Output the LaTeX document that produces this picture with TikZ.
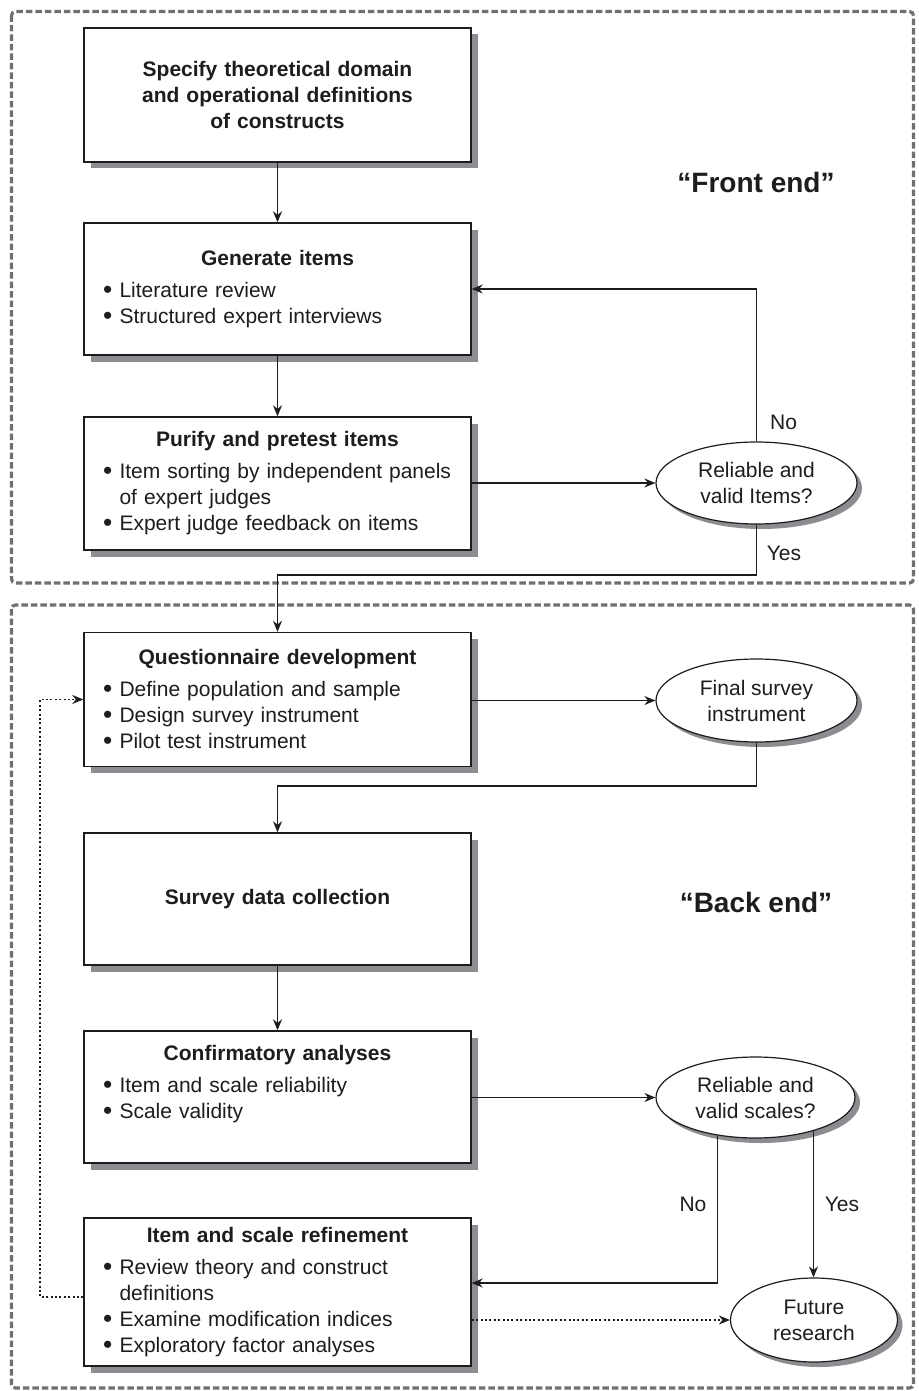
\documentclass[tikz,border=0pt]{standalone}
\usepackage{fontspec}
\setmainfont{Liberation Sans}
\usetikzlibrary{arrows.meta,shapes.geometric,shadows}
\definecolor{shadowgray}{RGB}{140,140,145}
\definecolor{framegray}{RGB}{112,112,116}
\definecolor{inkc}{RGB}{30,28,30}
\newcommand{\btitle}[1]{{\centering\bfseries #1\par}\vspace{6pt}}
\newcommand{\bitem}[1]{\par\noindent\mbox{\makebox[16.5pt][l]{\raisebox{-0.6pt}{\scalebox{1.25}{\textbullet}}}#1}}
\newcommand{\citem}[1]{\par\noindent\mbox{\hspace*{16.5pt}#1}}
\tikzset{
  box/.style={draw=inkc, line width=1.4pt, fill=white, minimum width=387pt,
    text width=349pt, inner xsep=19pt, inner ysep=0pt, text=inkc,
    font=\fontsize{21}{26}\selectfont,
    drop shadow={shadow xshift=6.5pt, shadow yshift=-6.5pt, opacity=1, fill=shadowgray}},
  oval/.style={ellipse, draw=inkc, line width=1.2pt, fill=white, inner sep=0pt,
    align=center, text=inkc, font=\fontsize{21}{26}\selectfont,
    drop shadow={shadow xshift=5pt, shadow yshift=-5pt, opacity=1, fill=shadowgray}},
  arr/.style={draw=inkc, line width=1.3pt, -{Stealth[length=11pt,width=9pt]}},
  dotarr/.style={draw=inkc, line width=1.6pt, dash pattern=on 2pt off 2.4pt, -{Stealth[length=11pt,width=9pt]}},
  frame/.style={draw=framegray, line width=3.2pt, dash pattern=on 6.5pt off 3pt, rounded corners=4pt},
  lbl/.style={text=inkc, font=\fontsize{21}{26}\selectfont, inner sep=0pt},
  big/.style={text=inkc, font=\fontsize{28}{34}\selectfont\bfseries, inner sep=0pt}
}
\begin{document}
\begin{tikzpicture}[x=1pt,y=-1pt]
\useasboundingbox (0,0) rectangle (918,1391);
\fill[white] (0,0) rectangle (918,1391);
% frames
\draw[frame] (11.5,11.5) rectangle (913.5,583);
\draw[frame] (11.5,605) rectangle (913.5,1388);
% boxes
\node[box, minimum height=134pt] (b1) at (277.5,95)
  {{\centering\bfseries Specify theoretical domain\\and operational definitions\\of constructs\par}};
\node[box, minimum height=132pt] (b2) at (277.5,289)
  {\btitle{Generate items}\bitem{Literature review}\bitem{Structured expert interviews}};
\node[box, minimum height=133pt] (b3) at (277.5,483.5)
  {\btitle{Purify and pretest items}\bitem{Item sorting by independent panels}\citem{of expert judges}\bitem{Expert judge feedback on items}};
\node[box, minimum height=134pt] (b4) at (277.5,699.5)
  {\btitle{Questionnaire development}\bitem{Define population and sample}\bitem{Design survey instrument}\bitem{Pilot test instrument}};
\node[box, minimum height=132pt] (b5) at (277.5,899)
  {{\centering\bfseries Survey data collection\par}};
\node[box, minimum height=132pt] (b6) at (277.5,1097)
  {\btitle{Confirmatory analyses}\bitem{Item and scale reliability}\bitem{Scale validity}\par\vspace{26pt}};
\node[box, minimum height=148pt] (b7) at (277.5,1292)
  {\btitle{Item and scale refinement}\bitem{Review theory and construct}\citem{definitions}\bitem{Examine modification indices}\bitem{Exploratory factor analyses}};
% ovals
\node[oval, minimum width=201pt, minimum height=82pt] (d1) at (756.5,483) {Reliable and\\valid Items?};
\node[oval, minimum width=201pt, minimum height=83pt] (d2) at (756.5,700.5) {Final survey\\instrument};
\node[oval, minimum width=199pt, minimum height=81pt] (d3) at (755.5,1097.5) {Reliable and\\valid scales?};
\node[oval, minimum width=167pt, minimum height=84pt] (d4) at (814,1320) {Future\\research};
% labels
\node[big] (fe) at (756,182) {“Front end”};
\node[big] (be) at (756,902) {“Back end”};
\node[lbl] (no1) at (783.5,422) {No};
\node[lbl] (yes1) at (784,553) {Yes};
\node[lbl] (no2) at (693,1204) {No};
\node[lbl] (yes2) at (842,1204) {Yes};
% coordinates
\coordinate (c1) at (0,575);
\coordinate (c2) at (0,786);
\coordinate (c3) at (0,1283);
\coordinate (fb) at (40,1297);
% connectors
\draw[arr] (b1.south) -- (b2.north);
\draw[arr] (b2.south) -- (b3.north);
\draw[arr] (b3.east |- d1.west) -- (d1.west);
\draw[arr] (d1.north) |- (b2.east);
\draw[arr] (d1.south) -- (d1.south |- c1) -| (b4.north);
\draw[arr] (b4.east |- d2.west) -- (d2.west);
\draw[arr] (d2.south) -- (d2.south |- c2) -| (b5.north);
\draw[arr] (b5.south) -- (b6.north);
\draw[arr] (b6.east |- d3.west) -- (d3.west);
\draw[arr] (d3.225) |- (b7.east |- c3);
\draw[arr] (d3.330) -- (d3.330 |- d4.north);
\draw[dotarr] (b7.east |- d4.west) -- (d4.west);
\draw[dotarr] (b7.west |- fb) -- (fb) |- (b4.west);
\end{tikzpicture}
\end{document}
